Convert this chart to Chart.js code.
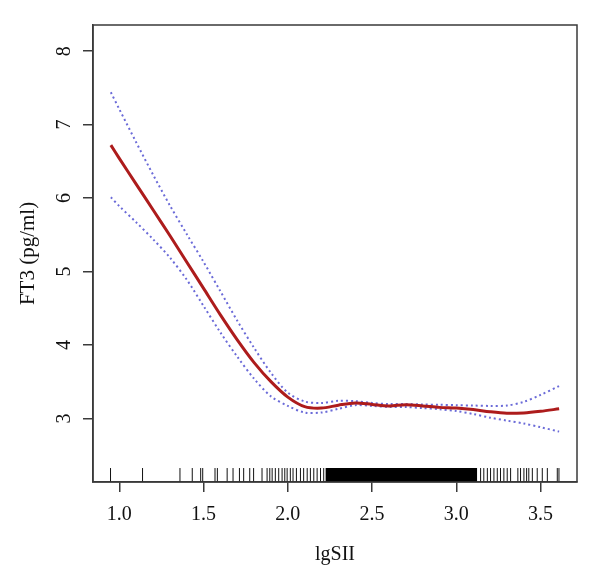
<!DOCTYPE html>
<html>
<head>
<meta charset="utf-8">
<script src="https://cdn.jsdelivr.net/npm/chart.js@4.4.1/dist/chart.umd.min.js"></script>
<style>
html,body{margin:0;padding:0;background:#fff;}
#wrap{width:600px;height:588px;}
</style>
</head>
<body>
<div id="wrap"><canvas id="c" width="600" height="588"></canvas></div>
<script>
// ---- data ----
const xGrid = [0.95,1.0,1.1,1.2,1.3,1.4,1.5,1.6,1.7,1.8,1.9,2.0,2.1,2.2,2.3,2.4,2.5,2.6,2.7,2.8,2.9,3.0,3.1,3.2,3.3,3.4,3.5,3.61];
const fitY   = [6.72,6.54,6.19,5.84,5.49,5.13,4.77,4.41,4.07,3.76,3.50,3.29,3.16,3.14,3.18,3.21,3.19,3.17,3.185,3.17,3.15,3.14,3.12,3.09,3.07,3.075,3.097,3.13];
const upperY = [7.44,7.21,6.76,6.32,5.90,5.51,5.13,4.73,4.33,3.96,3.62,3.35,3.23,3.21,3.24,3.235,3.21,3.195,3.196,3.19,3.185,3.18,3.175,3.17,3.175,3.225,3.32,3.44];
const lowerY = [6.01,5.89,5.67,5.44,5.19,4.89,4.53,4.17,3.84,3.54,3.30,3.17,3.08,3.08,3.13,3.18,3.17,3.155,3.155,3.14,3.125,3.10,3.06,3.01,2.97,2.93,2.88,2.82];
const rugX = [0.948,1.138,1.360,1.433,1.483,1.495,1.568,1.582,1.640,1.675,1.713,1.738,1.774,1.797,1.847,1.877,1.893,1.907,1.926,1.946,1.966,1.982,1.996,2.015,2.031,2.051,2.075,2.094,2.115,2.134,2.154,2.174,2.194,2.213,
              3.144,3.163,3.184,3.203,3.223,3.243,3.262,3.282,3.302,3.322,3.365,3.381,3.401,3.417,3.430,3.451,3.480,3.510,3.540,3.599,3.609];
const rugDense = [2.223, 3.124];  // solid black stretch of the rug
const xTicks = [1.0,1.5,2.0,2.5,3.0,3.5];
const yTicks = [3,4,5,6,7,8];
const xRange = [0.844, 3.716];
const yRange = [2.134, 8.356];

// ---- build ----
const rugTop = yRange[0] + 0.19;
const pts = ys => xGrid.map((x,i)=>({x:x,y:ys[i]}));
const rugPts = [];
rugX.forEach(v=>{ rugPts.push({x:v,y:yRange[0]}); rugPts.push({x:v,y:rugTop}); rugPts.push({x:v,y:null}); });

const FAM = "'Liberation Serif', 'DejaVu Serif', serif";
const FONT = {family:FAM, size:20};
const YFONT = {family:FAM, size:21};
const AX = '#3a3a3a';

const frame = {
  id:'frame',
  afterDraw(chart){
    const a = chart.chartArea, ctx = chart.ctx;
    ctx.save(); ctx.strokeStyle = AX; ctx.lineWidth = 1.5;
    ctx.strokeRect(a.left, a.top, a.right-a.left, a.bottom-a.top);
    ctx.restore();
  }
};

const band = {showLine:true, pointRadius:0, tension:0.3};

new Chart(document.getElementById('c'), {
  type:'scatter',
  data:{datasets:[
    {data:[{x:rugDense[0],y:rugTop},{x:rugDense[1],y:rugTop}], showLine:true, fill:'start', backgroundColor:'#000', borderWidth:0, pointRadius:0, order:5},
    {data:rugPts, showLine:true, spanGaps:false, borderColor:'#111', borderWidth:1, pointRadius:0, order:4},
    Object.assign({data:pts(upperY), borderColor:'#6b6bd8', borderWidth:2, borderDash:[2,3], order:2}, band),
    Object.assign({data:pts(lowerY), borderColor:'#6b6bd8', borderWidth:2, borderDash:[2,3], order:2}, band),
    Object.assign({data:pts(fitY), borderColor:'#ad1c1c', borderWidth:3, order:1}, band)
  ]},
  options:{
    responsive:false, animation:false,
    layout:{padding:{left:0, top:22, right:23, bottom:0}},
    plugins:{legend:{display:false}, tooltip:{enabled:false}},
    scales:{
      x:{
        type:'linear', min:xRange[0], max:xRange[1],
        afterBuildTicks: s => { s.ticks = xTicks.map(v=>({value:v})); },
        afterFit: s => { s.height = 106; },
        ticks:{font:FONT, color:'#111', padding:11, callback:v=>v.toFixed(1), maxRotation:0, autoSkip:false},
        grid:{display:true, drawOnChartArea:false, drawTicks:true, tickLength:10, color:AX, lineWidth:1.5},
        border:{display:true, color:AX, width:1.5},
        title:{display:true, text:'lgSII', font:FONT, color:'#111', padding:{top:0,bottom:21}}
      },
      y:{
        type:'linear', min:yRange[0], max:yRange[1],
        afterBuildTicks: s => { s.ticks = yTicks.map(v=>({value:v})); },
        afterFit: s => { s.width = 93; },
        ticks:{font:FONT, color:'#111', padding:13, minRotation:90, maxRotation:90, crossAlign:'center', autoSkip:false, callback:v=>String(v)},
        grid:{display:true, drawOnChartArea:false, drawTicks:true, tickLength:10, color:AX, lineWidth:1.5},
        border:{display:true, color:AX, width:1.5},
        title:{display:true, text:'FT3 (pg/ml)', font:YFONT, color:'#111', padding:{top:16,bottom:0}}
      }
    }
  },
  plugins:[frame]
});
</script>
</body>
</html>
